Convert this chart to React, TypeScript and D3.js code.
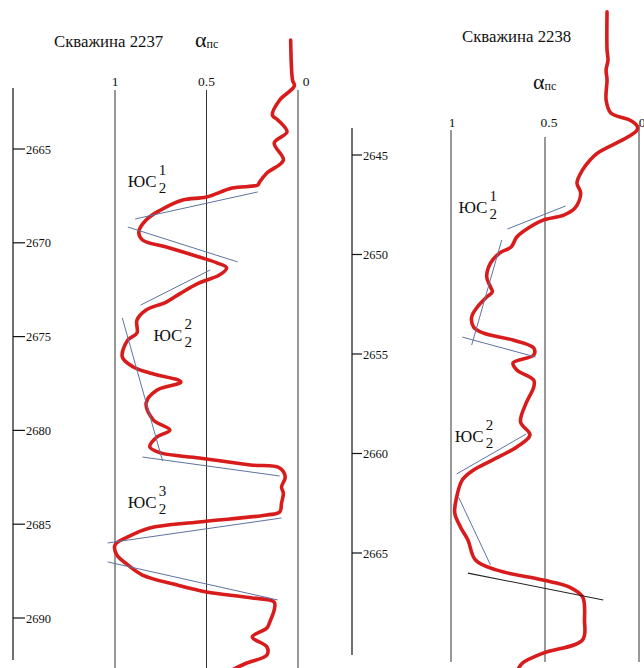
import React from "react";
import * as d3 from "d3";

// ---------- DATA ----------
const alphaTicks = [1, 0.5, 0];
const alphaTickLabels = ["1", "0.5", "0"];

const leftTitle = "Скважина 2237";
const rightTitle = "Скважина 2238";

const leftDepthTicks = [2665, 2670, 2675, 2680, 2685, 2690];
const rightDepthTicks = [2645, 2650, 2655, 2660, 2665];

// Well 2237: depth, alpha_ps
const leftDepth = [
  2659.19, 2661.32, 2661.64, 2662.39, 2663.19, 2663.45, 2664.09, 2664.68, 2665.59, 2666.28,
  2666.76, 2666.92, 2667.08, 2667.56, 2667.72, 2668.25, 2668.78, 2669.42, 2669.85, 2670.22,
  2670.76, 2671.08, 2671.34, 2671.72, 2672.14, 2672.68, 2673.16, 2673.58, 2674.12, 2674.81,
  2675.18, 2676.09, 2676.62, 2676.94, 2677.42, 2677.85, 2678.54, 2679.45, 2679.98, 2680.35,
  2680.88, 2681.2, 2681.47, 2681.84, 2682.0, 2682.48, 2683.02, 2683.34, 2683.87, 2684.35,
  2684.51, 2684.88, 2685.2, 2685.68, 2686.11, 2686.64, 2687.17, 2687.71, 2688.24, 2688.61,
  2688.93, 2689.15, 2689.57, 2690.11, 2690.53, 2691.01, 2691.54, 2691.97, 2692.4, 2692.77,
];
const leftAlpha = [
  0.04, 0.03, 0.02, 0.1, 0.14, 0.11, 0.06, 0.13, 0.08, 0.17,
  0.21, 0.22, 0.36, 0.5, 0.63, 0.75, 0.83, 0.87, 0.85, 0.72,
  0.54, 0.44, 0.39, 0.43, 0.54, 0.64, 0.72, 0.83, 0.88, 0.88,
  0.93, 0.96, 0.9, 0.81, 0.64, 0.77, 0.83, 0.79, 0.7, 0.77,
  0.81, 0.75, 0.54, 0.26, 0.1, 0.07, 0.09, 0.08, 0.09, 0.1,
  0.17, 0.54, 0.81, 0.93, 1.0, 0.99, 0.93, 0.85, 0.66, 0.5,
  0.25, 0.13, 0.13, 0.15, 0.17, 0.25, 0.17, 0.17, 0.28, 0.36,
];

// Well 2238: depth, alpha_ps
const rightDepth = [
  2637.81, 2639.72, 2640.23, 2640.73, 2641.23, 2642.24, 2642.89, 2643.24, 2643.54, 2643.74,
  2644.1, 2644.9, 2645.25, 2645.75, 2646.41, 2646.91, 2647.66, 2648.02, 2648.27, 2648.62,
  2649.12, 2649.62, 2649.92, 2650.43, 2651.13, 2651.63, 2651.88, 2652.14, 2652.64, 2653.14,
  2653.64, 2653.94, 2654.3, 2654.7, 2655.05, 2655.45, 2655.8, 2656.31, 2656.66, 2657.46,
  2658.42, 2659.07, 2659.67, 2660.33, 2660.83, 2661.33, 2662.19, 2662.99, 2663.69, 2664.35,
  2665.35, 2665.85, 2666.36, 2666.71, 2667.21, 2668.37, 2669.37, 2670.03, 2670.53, 2670.78,
];
const rightAlpha = [
  0.17, 0.17, 0.165, 0.175, 0.17, 0.175, 0.15, 0.05, 0.01, 0.01,
  0.06, 0.22, 0.26, 0.3, 0.33, 0.31, 0.34, 0.4, 0.51, 0.58,
  0.65, 0.68, 0.74, 0.79, 0.81, 0.79, 0.78, 0.81, 0.86, 0.89,
  0.88, 0.83, 0.67, 0.56, 0.56, 0.67, 0.65, 0.56, 0.56, 0.6,
  0.63, 0.58, 0.65, 0.78, 0.88, 0.94, 0.97, 0.98, 0.95, 0.91,
  0.87, 0.76, 0.51, 0.37, 0.3, 0.29, 0.3, 0.51, 0.62, 0.64,
];

// Tangent (trend) segments: [depth1, alpha1, depth2, alpha2]
const leftTrendD1 = [2668.73, 2669.16, 2673.32, 2674.01, 2681.42, 2686.0, 2687.01];
const leftTrendA1 = [0.89, 0.93, 0.86, 0.96, 0.85, 1.04, 1.04];
const leftTrendD2 = [2667.29, 2671.02, 2671.45, 2681.63, 2682.43, 2684.67, 2689.04];
const leftTrendA2 = [0.22, 0.33, 0.48, 0.74, 0.1, 0.09, 0.11];
const leftTrendDark = [false, false, false, false, false, false, false];

const rightTrendD1 = [2648.72, 2649.27, 2654.15, 2661.03, 2662.19, 2666.01];
const rightTrendA1 = [0.7, 0.73, 0.94, 0.97, 0.96, 0.91];
const rightTrendD2 = [2647.56, 2654.55, 2655.15, 2659.02, 2665.6, 2667.36];
const rightTrendA2 = [0.39, 0.89, 0.55, 0.6, 0.79, 0.19];
const rightTrendDark = [false, false, false, false, false, true];

// Stratigraphic labels ЮС (sub 2, sup n)
const leftLabelSup = ["1", "2", "3"];
const leftLabelDepth = [2667.03, 2675.23, 2684.14];
const leftLabelAlpha = [0.93, 0.79, 0.93];
const rightLabelSup = ["1", "2"];
const rightLabelDepth = [2647.91, 2659.42];
const rightLabelAlpha = [0.96, 0.98];

// ---------- LAYOUT ----------
const W = 644;
const H = 668;
const SERIF = "Liberation Serif, DejaVu Serif, serif";
const RED = "#d81c1c";
const BLUE = "#5f73a0";

type PanelProps = {
  title: string;
  titleX: number;
  titleY: number;
  alphaX: number;
  alphaY: number;
  axisX: number;
  axisTop: number;
  axisBottom: number;
  depthDomain: [number, number];
  depthRange: [number, number];
  alphaRange: [number, number];
  guideTops: number[];
  guideBottom: number;
  alphaLabelY: number;
  alphaLabelDx: number[];
  depthTicks: number[];
  tickLen: number;
  depth: number[];
  alpha: number[];
  trendD1: number[];
  trendA1: number[];
  trendD2: number[];
  trendA2: number[];
  trendDark: boolean[];
  labelSup: string[];
  labelDepth: number[];
  labelAlpha: number[];
};

function Panel(p: PanelProps) {
  const y = d3.scaleLinear().domain(p.depthDomain).range(p.depthRange);
  const x = d3.scaleLinear().domain([1, 0]).range(p.alphaRange);
  const pts: [number, number][] = p.depth.map((d, i) => [x(p.alpha[i]), y(d)]);
  const line = d3.line<[number, number]>().curve(d3.curveCatmullRom.alpha(0.5));
  return (
    <g style={{ fontFamily: SERIF }}>
      <text x={p.titleX} y={p.titleY} fontSize={16.8} fill="#111">
        {p.title}
      </text>
      <text x={p.alphaX} y={p.alphaY} fill="#111">
        <tspan fontSize={22}>α</tspan>
        <tspan fontSize={12} dy={1}>пс</tspan>
      </text>
      {/* depth axis */}
      <line x1={p.axisX} x2={p.axisX} y1={p.axisTop} y2={p.axisBottom} stroke="#111" strokeWidth={1.2} />
      {p.depthTicks.map((t) => (
        <g key={t}>
          <line x1={p.axisX} x2={p.axisX + p.tickLen} y1={y(t)} y2={y(t)} stroke="#111" strokeWidth={1.2} />
          <text x={p.axisX + p.tickLen + 1} y={y(t) + 4.5} fontSize={12.5} fill="#111">
            {t}
          </text>
        </g>
      ))}
      {/* alpha guide lines */}
      {alphaTicks.map((a, i) => (
        <g key={a}>
          <line x1={x(a)} x2={x(a)} y1={p.guideTops[i]} y2={p.guideBottom} stroke="#333" strokeWidth={1} />
          <text
            x={x(a) + p.alphaLabelDx[i]}
            y={p.alphaLabelY}
            textAnchor="middle"
            fontSize={13.5}
            fill="#111"
          >
            {alphaTickLabels[i]}
          </text>
        </g>
      ))}
      {/* curve */}
      <path d={line(pts) || ""} fill="none" stroke={RED} strokeWidth={3.6} strokeLinejoin="round" strokeLinecap="round" />
      {/* trend lines */}
      {p.trendD1.map((d, i) => (
        <line
          key={i}
          x1={x(p.trendA1[i])}
          y1={y(d)}
          x2={x(p.trendA2[i])}
          y2={y(p.trendD2[i])}
          stroke={p.trendDark[i] ? "#222" : BLUE}
          strokeWidth={p.trendDark[i] ? 1.1 : 1}
        />
      ))}
      {/* labels */}
      {p.labelSup.map((s, i) => {
        const lx = x(p.labelAlpha[i]);
        const ly = y(p.labelDepth[i]);
        return (
          <g key={i}>
            <text x={lx} y={ly} fontSize={17} fill="#111">
              ЮС
            </text>
            <text x={lx + 31} y={ly - 12} fontSize={15} fill="#111">
              {s}
            </text>
            <text x={lx + 31} y={ly + 6} fontSize={15} fill="#111">
              2
            </text>
          </g>
        );
      })}
    </g>
  );
}

export default function App() {
  return (
    <div style={{ position: "absolute", left: 0, top: 0 }}>
      <svg width={W} height={H} viewBox={`0 0 ${W} ${H}`} style={{ display: "block", background: "#fff" }}>
        <rect x={0} y={0} width={W} height={H} fill="#fff" />
        <Panel
          title={leftTitle}
          titleX={54}
          titleY={47}
          alphaX={195}
          alphaY={47}
          axisX={13}
          axisTop={88}
          axisBottom={660}
          depthDomain={[2665, 2690]}
          depthRange={[149, 618]}
          alphaRange={[115, 298]}
          guideTops={[90, 90, 90]}
          guideBottom={668}
          alphaLabelY={86}
          alphaLabelDx={[0, 0, 8]}
          depthTicks={leftDepthTicks}
          tickLen={12}
          depth={leftDepth}
          alpha={leftAlpha}
          trendD1={leftTrendD1}
          trendA1={leftTrendA1}
          trendD2={leftTrendD2}
          trendA2={leftTrendA2}
          trendDark={leftTrendDark}
          labelSup={leftLabelSup}
          labelDepth={leftLabelDepth}
          labelAlpha={leftLabelAlpha}
        />
        <Panel
          title={rightTitle}
          titleX={462}
          titleY={42}
          alphaX={533}
          alphaY={89}
          axisX={352}
          axisTop={128}
          axisBottom={655}
          depthDomain={[2645, 2665]}
          depthRange={[155, 553]}
          alphaRange={[451, 639]}
          guideTops={[130, 137, 125]}
          guideBottom={662}
          alphaLabelY={127}
          alphaLabelDx={[1, 4, 3]}
          depthTicks={rightDepthTicks}
          tickLen={10}
          depth={rightDepth}
          alpha={rightAlpha}
          trendD1={rightTrendD1}
          trendA1={rightTrendA1}
          trendD2={rightTrendD2}
          trendA2={rightTrendA2}
          trendDark={rightTrendDark}
          labelSup={rightLabelSup}
          labelDepth={rightLabelDepth}
          labelAlpha={rightLabelAlpha}
        />
      </svg>
    </div>
  );
}
